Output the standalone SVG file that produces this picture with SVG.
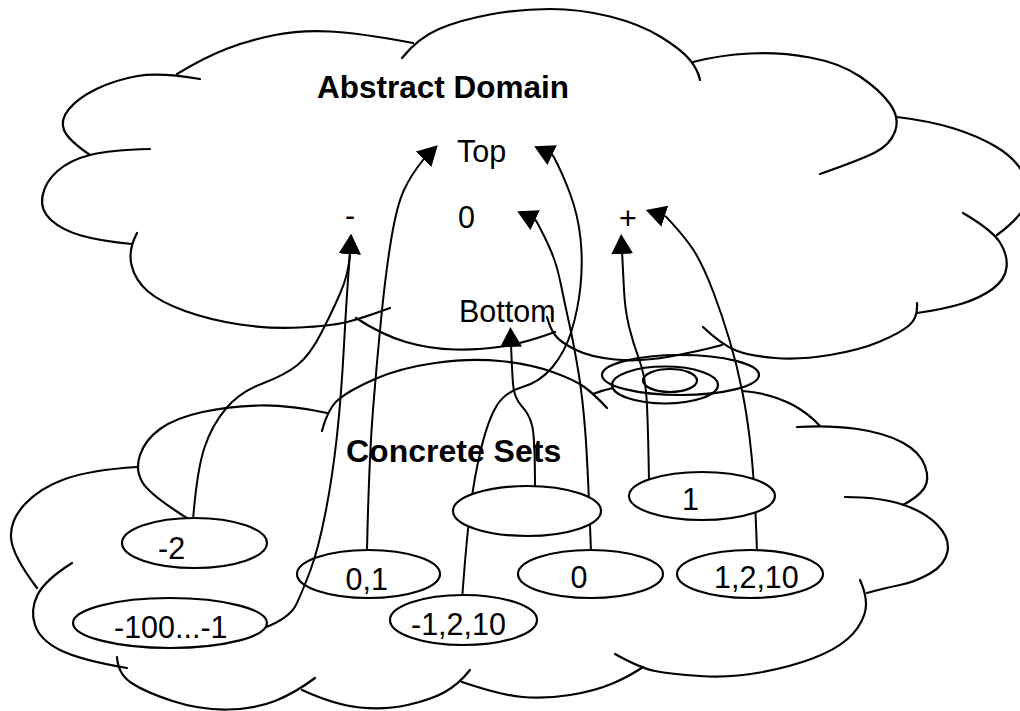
<svg xmlns="http://www.w3.org/2000/svg" width="1020" height="711" viewBox="0 0 1020 711">
  <defs>
    <!-- solid triangular arrowhead; base sits at the path end -->
    <marker id="head" viewBox="0 0 20 22" refX="3" refY="11" markerWidth="20" markerHeight="22" markerUnits="userSpaceOnUse" orient="auto">
      <path d="M0,0 L20,11 L0,22 z" fill="#000"/>
    </marker>
  </defs>
  <style>
    .cloud{fill:none;stroke:#000;stroke-width:2.2;stroke-linecap:round;stroke-linejoin:round}
    .ring{fill:none;stroke:#000;stroke-width:2.2}
    .set{fill:#fff;stroke:#000;stroke-width:2.2}
    .open{fill:none}
    .edge{fill:none;stroke:#000;stroke-width:2;stroke-linecap:round;marker-end:url(#head)}
    .title{font-family:"Liberation Sans",Arial,Helvetica,sans-serif;font-weight:bold;font-size:31.5px;fill:#000}
    .lbl{font-family:"Liberation Sans",Arial,Helvetica,sans-serif;font-size:30.5px;fill:#000}
  </style>
  <rect width="1020" height="711" fill="#fff"/>

  <!-- upper cloud: the abstract domain -->
  <g id="abstract-domain">
    <path class="cloud" d="M200,79 Q160,72 137.5,76 Q115,80 96.5,89 Q78,98 69,109 Q60,120 64,130 Q68,140 90,155"/>
    <path class="cloud" d="M177,74 Q205,57 227.5,48.5 Q250,40 275,35 Q300,30 330,31.5 Q360,33 413,43"/>
    <path class="cloud" d="M402,58 Q418,38 439,29 Q460,20 490,14.5 Q520,9 550,9 Q580,9 610,16.5 Q640,24 661,37 Q682,50 690,60 Q698,70 700,80"/>
    <path class="cloud" d="M693,62 Q720,55 750,53.5 Q780,52 810,57.5 Q840,63 860,76.5 Q880,90 890,104 Q900,118 895,131.5 Q890,145 875,152.5 Q860,160 820,174"/>
    <path class="cloud" d="M897,117 Q930,121 954,128.5 Q978,136 996.5,147 Q1015,158 1023.5,174 Q1032,190 1026,204 Q1020,218 997,235"/>
    <path class="cloud" d="M963,213 Q992,230 1000,242.5 Q1008,255 1006.5,267.5 Q1005,280 992.5,289 Q980,298 962.5,303.5 Q945,309 917,313"/>
    <path class="cloud" d="M917,303 Q918,318 909,325.5 Q900,333 880,341.5 Q860,350 830,355 Q800,360 775,358 Q750,356 736,350.5 Q722,345 703,327"/>
    <path class="cloud" d="M722,345 Q700,351 670,356.5 Q640,362 615,359.5 Q590,357 575,349.5 Q560,342 555,335 Q550,328 547,317"/>
    <path class="cloud" d="M356,318 Q382,335 406,342 Q430,349 455,349.5 Q480,350 502.5,346.5 Q525,343 555,332"/>
    <path class="cloud" d="M137,233 Q128,250 131.5,265 Q135,280 147.5,291 Q160,302 185,311 Q210,320 240,324.5 Q270,329 300,327.5 Q330,326 345,322.5 Q360,319 390,308"/>
    <path class="cloud" d="M150,149 Q110,150 90,155 Q70,160 57.5,171 Q45,182 42.5,196 Q40,210 51,220 Q62,230 81,235.5 Q100,241 132,244"/>
    <text class="title" x="317" y="98">Abstract Domain</text>
  </g>

  <!-- lower cloud: the concrete sets -->
  <g id="concrete-sets">
    <path class="cloud" d="M322,431 Q328,408 339,399 Q350,390 375,379 Q400,368 435,363 Q470,358 500,361 Q530,364 552.5,372 Q575,380 585,387.5 Q595,395 607,408"/>
    <path class="cloud" d="M593,394 Q603,390 613,388"/>
    <path class="cloud" d="M743,391 Q770,393 793,405 Q808,413 820,426"/>
    <path class="cloud" d="M797,427 Q830,425 857.5,429 Q885,433 902.5,442.5 Q920,452 925,466 Q930,480 924,488.5 Q918,497 903,505"/>
    <path class="cloud" d="M845,497 Q880,497 902.5,504.5 Q925,512 937.5,525 Q950,538 947.5,551.5 Q945,565 930,573.5 Q915,582 900,585 Q885,588 867,593"/>
    <path class="cloud" d="M860,580 Q869,600 864.5,614 Q860,628 847.5,639 Q835,650 812.5,658.5 Q790,667 760,672.5 Q730,678 700,676 Q670,674 655,671 Q640,668 615,654"/>
    <path class="cloud" d="M462,682 Q500,695 522.5,697 Q545,699 570,695 Q595,691 612.5,683.5 Q630,676 643,667"/>
    <path class="cloud" d="M302,690 Q335,705 360,707.5 Q385,710 407.5,705 Q430,700 444,692.5 Q458,685 470,670"/>
    <path class="cloud" d="M117,657 Q118,674 131.5,683 Q145,692 172.5,701 Q200,710 227.5,709.5 Q255,709 275,701 Q295,693 315,678"/>
    <path class="cloud" d="M72,563 Q45,580 37.5,595 Q30,610 35,625 Q40,640 60,650 Q80,660 127,668"/>
    <path class="cloud" d="M137,467 Q90,470 65,479 Q40,488 25,504 Q10,520 11,537.5 Q12,555 37,588"/>
    <path class="cloud" d="M327,413 Q290,405 260,405.5 Q230,406 202.5,412 Q175,418 160,429 Q145,440 140,455 Q135,470 142.5,482.5 Q150,495 190,520"/>
    <text class="title" x="346" y="462" style="font-size:32px">Concrete Sets</text>
  </g>

  <!-- concentric rings where the two clouds meet -->
  <g id="sink">
    <ellipse class="ring" cx="680.5" cy="375" rx="78.5" ry="20"/>
    <ellipse class="ring" cx="665" cy="385" rx="53" ry="18.5"/>
    <ellipse class="ring" cx="670" cy="380.5" rx="27" ry="11.5"/>
  </g>

  <!-- abstract values -->
  <g id="val-top"><text class="lbl" x="457" y="162">Top</text></g>
  <g id="val-neg"><text class="lbl" x="345" y="226">-</text></g>
  <g id="val-zero"><text class="lbl" x="458" y="228">0</text></g>
  <g id="val-pos"><text class="lbl" x="619" y="229">+</text></g>
  <g id="val-bottom"><text class="lbl" x="459" y="322">Bottom</text></g>

  <!-- abstraction arrows from concrete sets to abstract values -->
  <g id="connectors">
    <path class="edge" d="M193,520 Q197,470 204.5,447.5 Q212,425 226,408.5 Q240,392 262.5,383.5 Q285,375 297.5,365 Q310,355 321.5,332.5 Q333,310 340.5,292.5 Q348,275 349.5,258 L350,251"/>
    <path class="edge" d="M264,628 Q290,618 296.5,604 Q303,590 310.5,570 Q318,550 325,515 Q332,480 336.5,440 Q341,400 344,345 Q347,290 349.5,260 L350,251"/>
    <path class="edge" d="M367,550 Q369,460 373,410 Q377,360 381.5,315 Q386,270 391.5,237.5 Q397,205 404,190 Q411,175 423,160 L425.7,157.3"/>
    <path class="edge" d="M462,600 Q466,545 470,511.5 Q474,478 481,449 Q488,420 496.5,406 Q505,392 522.5,387 Q540,382 552.5,367 Q565,352 571.5,331 Q578,310 580.5,286 Q583,262 580.5,238.5 Q578,215 570,193.5 Q562,172 553,155.5 L549.5,153.8"/>
    <path class="edge" d="M591,552 Q588,470 585.5,435 Q583,400 578.5,372.5 Q574,345 569,322.5 Q564,300 560.5,282.5 Q557,265 551,251 Q545,237 536,220.5 L532.5,218.8"/>
    <path class="edge" d="M757,552 Q755,490 751.5,455 Q748,420 742.5,392.5 Q737,365 729.5,340 Q722,315 713.5,292.5 Q705,270 696.5,255 Q688,240 666,216.6 L662,215.3"/>
    <path class="edge" d="M649,482 Q648,420 646.5,397.5 Q645,375 639,359 Q633,343 629,326.5 Q625,310 624,290 Q623,270 622,251"/>
    <path class="edge" d="M535,490 Q535,440 532.5,427.5 Q530,415 522,406.5 Q514,398 513,384 Q512,370 511,344"/>
  </g>

  <!-- concrete sets -->
  <g id="set-neg2">
    <ellipse class="set" cx="194.5" cy="543" rx="72.5" ry="25"/>
    <text class="lbl" x="158" y="559">-2</text>
  </g>
  <g id="set-neg100">
    <ellipse class="set" cx="170" cy="623" rx="97" ry="25"/>
    <text class="lbl" x="114" y="638">-100...-1</text>
  </g>
  <g id="set-01">
    <ellipse class="set open" cx="368.5" cy="574" rx="71.5" ry="24"/>
    <text class="lbl" x="345.5" y="590">0,1</text>
  </g>
  <g id="set-empty">
    <ellipse class="set" cx="527" cy="511" rx="74" ry="25"/>
  </g>
  <g id="set-m1210">
    <ellipse class="set" cx="463.5" cy="620" rx="73.5" ry="25"/>
    <text class="lbl" x="411" y="635">-1,2,10</text>
  </g>
  <g id="set-0">
    <ellipse class="set" cx="590.5" cy="574" rx="72.5" ry="24"/>
    <text class="lbl" x="570.5" y="588">0</text>
  </g>
  <g id="set-1">
    <ellipse class="set" cx="702" cy="496" rx="73" ry="24"/>
    <text class="lbl" x="682" y="510">1</text>
  </g>
  <g id="set-1210">
    <ellipse class="set" cx="750" cy="574" rx="73" ry="24"/>
    <text class="lbl" x="714" y="588">1,2,10</text>
  </g>
</svg>
